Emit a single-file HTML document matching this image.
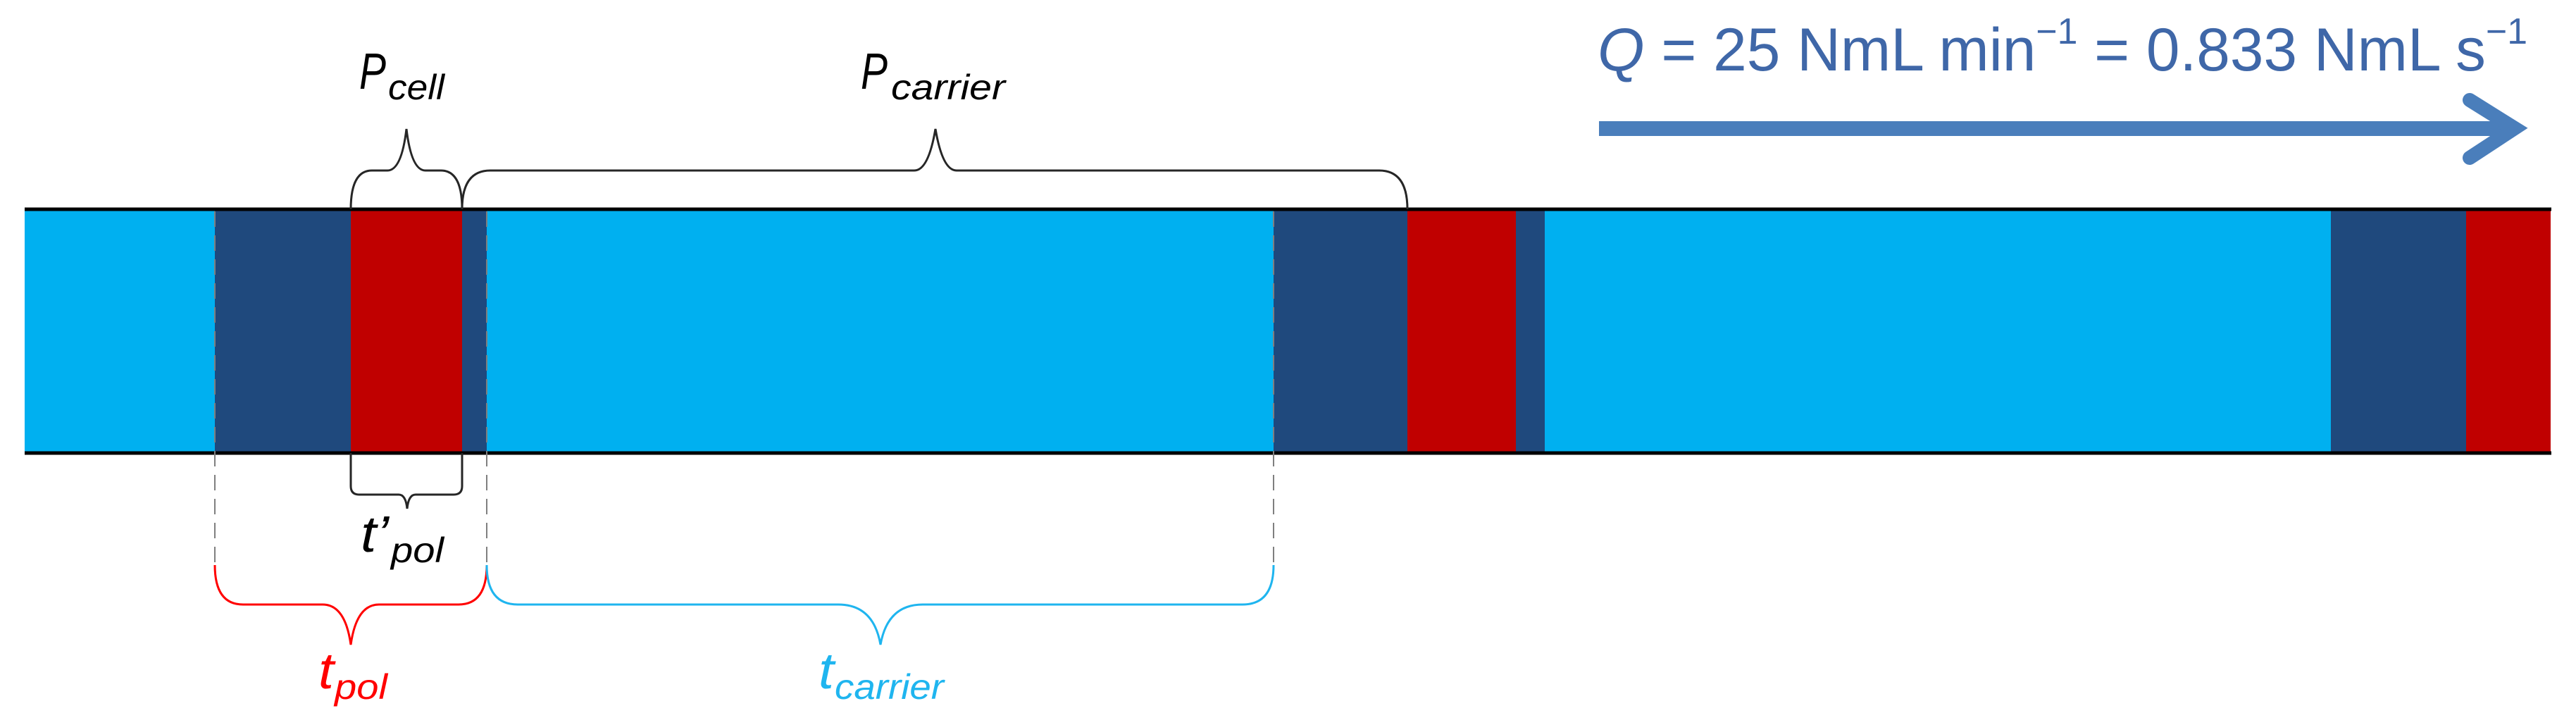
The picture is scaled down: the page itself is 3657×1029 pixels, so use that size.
<!DOCTYPE html>
<html><head><meta charset="utf-8"><style>
html,body{margin:0;padding:0;background:#fff;}
svg{display:block;}
text{font-family:"Liberation Sans",sans-serif;}
.it{font-style:italic;}
</style></head><body>
<svg width="3657" height="1029" viewBox="0 0 3657 1029" xmlns="http://www.w3.org/2000/svg">
<rect x="35" y="297" width="270" height="346" fill="#00b0f0"/>
<rect x="305" y="297" width="193" height="346" fill="#1f497d"/>
<rect x="498" y="297" width="158" height="346" fill="#c00000"/>
<rect x="656" y="297" width="35" height="346" fill="#1f497d"/>
<rect x="691" y="297" width="1117" height="346" fill="#00b0f0"/>
<rect x="1808" y="297" width="190" height="346" fill="#1f497d"/>
<rect x="1998" y="297" width="154" height="346" fill="#c00000"/>
<rect x="2152" y="297" width="41" height="346" fill="#1f497d"/>
<rect x="2193" y="297" width="1116" height="346" fill="#00b0f0"/>
<rect x="3309" y="297" width="192" height="346" fill="#1f497d"/>
<rect x="3501" y="297" width="120" height="346" fill="#c00000"/>
<line x1="35" y1="297" x2="3622" y2="297" stroke="#000" stroke-width="5"/>
<line x1="35" y1="643" x2="3622" y2="643" stroke="#000" stroke-width="5"/>
<g stroke="#7f7f7f" stroke-width="2" stroke-dasharray="22,12" fill="none">
<line x1="305" y1="300" x2="305" y2="802"/>
<line x1="691" y1="300" x2="691" y2="802"/>
<line x1="1808" y1="300" x2="1808" y2="802"/>
</g>
<g fill="none" stroke="#262626" stroke-width="3">
<path d="M498 297 Q498 242 528 242 L550 242 Q570 242 577 183 Q584 242 604 242 L626 242 Q656 242 656 297"/>
<path d="M656 297 Q656 242 696 242 L1298 242 Q1318 242 1328 183 Q1338 242 1358 242 L1958 242 Q1998 242 1998 297"/>
<path d="M498 643 L498 690 Q498 702 510 702 L566 702 Q576 702 578 722 Q580 702 590 702 L644 702 Q656 702 656 690 L656 643"/>
</g>
<path d="M305 802 Q305 858 345 858 L458 858 Q490 858 498 915 Q506 858 538 858 L651 858 Q691 858 691 802" fill="none" stroke="#ff0000" stroke-width="3"/>
<path d="M691 802 Q691 858 735 858 L1190 858 Q1240 858 1250 915 Q1260 858 1310 858 L1764 858 Q1808 858 1808 802" fill="none" stroke="#1fb5ef" stroke-width="3"/>
<text class="it" x="510" y="126" font-size="72" fill="#000" textLength="38" lengthAdjust="spacingAndGlyphs">P</text>
<text class="it" x="551" y="141" font-size="50" fill="#000" textLength="80" lengthAdjust="spacingAndGlyphs">cell</text>
<text class="it" x="1222" y="126" font-size="72" fill="#000" textLength="38" lengthAdjust="spacingAndGlyphs">P</text>
<text class="it" x="1265" y="141" font-size="50" fill="#000" textLength="162" lengthAdjust="spacingAndGlyphs">carrier</text>
<text class="it" x="512" y="783" font-size="72" fill="#000" textLength="40" lengthAdjust="spacingAndGlyphs">t’</text>
<text class="it" x="555" y="798" font-size="50" fill="#000" textLength="75" lengthAdjust="spacingAndGlyphs">pol</text>
<text class="it" x="452" y="977" font-size="72" fill="#ff0000" textLength="22" lengthAdjust="spacingAndGlyphs">t</text>
<text class="it" x="475" y="992" font-size="50" fill="#ff0000" textLength="75" lengthAdjust="spacingAndGlyphs">pol</text>
<text class="it" x="1162" y="977" font-size="72" fill="#1fb5ef" textLength="22" lengthAdjust="spacingAndGlyphs">t</text>
<text class="it" x="1185" y="992" font-size="50" fill="#1fb5ef" textLength="155" lengthAdjust="spacingAndGlyphs">carrier</text>
<text x="2268" y="100" font-size="86" fill="#3f67a8" textLength="1320" lengthAdjust="spacingAndGlyphs"><tspan class="it">Q</tspan> = 25 NmL min<tspan font-size="52" dy="-38">−1</tspan><tspan dy="38"> = 0.833 NmL s</tspan><tspan font-size="52" dy="-38">−1</tspan></text>
<rect x="2270" y="172" width="1285" height="21" fill="#4a7ebb"/>
<path d="M3506 142 L3570 182 L3506 224" fill="none" stroke="#4a7ebb" stroke-width="20" stroke-linecap="round" stroke-linejoin="miter"/>
</svg>
</body></html>
